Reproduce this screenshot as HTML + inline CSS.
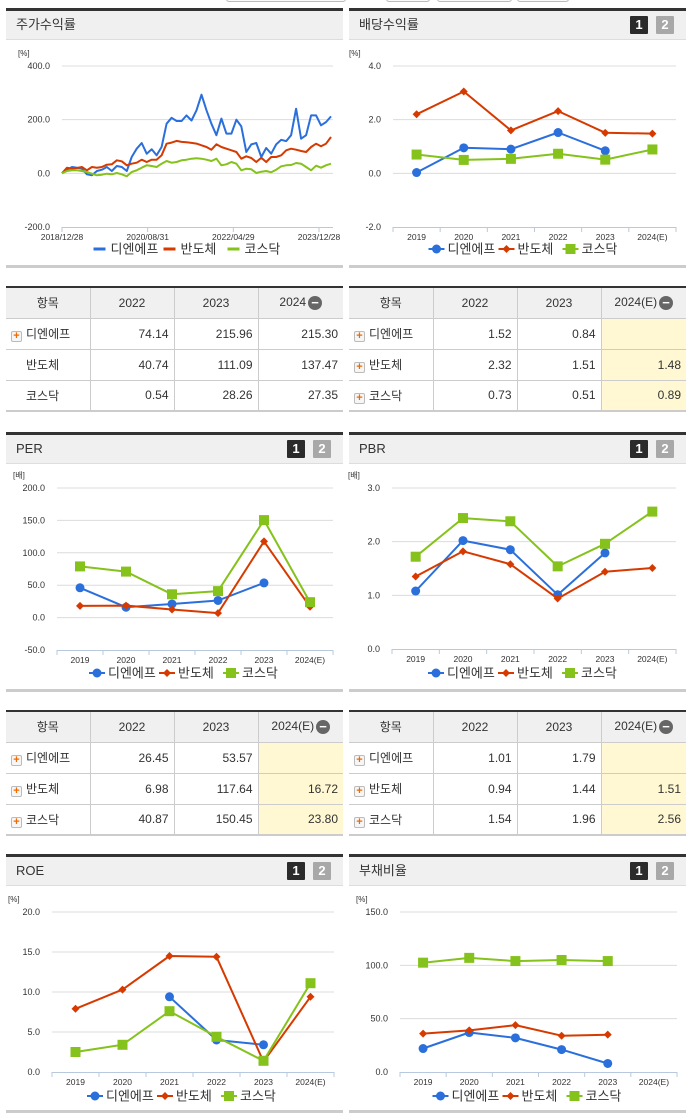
<!DOCTYPE html>
<html><head><meta charset="utf-8">
<style>
*{margin:0;padding:0;box-sizing:border-box}
body{width:691px;height:1115px;background:#fff;position:relative;overflow:hidden;font-family:"Liberation Sans","Noto Sans CJK KR",sans-serif;color:#333}
.abs{position:absolute}
.phead{position:absolute;height:32px;background:#f0f0f0;border-top:3px solid #333;border-bottom:1px solid #ddd;font-size:13px;line-height:28px;padding-left:10px;color:#333}
.pbot{position:absolute;height:3px;background:#ccc}
.badge{position:absolute;width:18px;height:18px;color:#fff;font-weight:bold;font-size:13px;line-height:18px;text-align:center;border-radius:1px}
.b1{background:#2b2b2b}.b2{background:#a8a8a8}
table{position:absolute;border-collapse:collapse;font-size:12px;table-layout:fixed;border-top:2px solid #333;border-bottom:2px solid #ccc}
td,th{border:1px solid #ccc;height:31px;padding:0 5px;font-weight:normal;white-space:nowrap}
th{background:#f0f0f0;text-align:center}
td{text-align:right}
td.n{text-align:left;padding-left:5px}
tr>*:first-child{border-left:none}
tr>*:last-child{border-right:none}
.y{background:#fff8d2}
.plus{display:inline-block;width:11px;height:11px;border:1px solid #bbb;border-radius:2px;background:#f6f6f6;color:#f06a00;font-size:11px;line-height:9px;text-align:center;font-weight:bold;vertical-align:-1px;margin-right:4px}
.sp{display:inline-block;width:15px}
.minus{display:inline-block;width:14px;height:14px;border-radius:7px;background:#666;color:#fff;font-size:13px;line-height:13px;text-align:center;vertical-align:middle;margin-left:2px;font-weight:bold}
.topbtn{position:absolute;top:-6px;height:8px;border:1px solid #bbb;border-radius:3px;background:#fafafa}
</style></head><body>
<div class="topbtn" style="left:226px;width:120px"></div>
<div class="topbtn" style="left:386px;width:44px"></div>
<div class="topbtn" style="left:437px;width:75px"></div>
<div class="topbtn" style="left:517px;width:52px"></div>

<div class="phead" style="left:6px;top:8px;width:337px">주가수익률</div>
<div class="phead" style="left:349px;top:8px;width:337px">배당수익률</div>
<div class="badge b1" style="left:630px;top:16px">1</div>
<div class="badge b2" style="left:656px;top:16px">2</div>
<div class="pbot" style="left:6px;top:265px;width:337px"></div>
<div class="pbot" style="left:349px;top:265px;width:337px"></div>

<div class="phead" style="left:6px;top:432px;width:337px">PER</div>
<div class="badge b1" style="left:287px;top:440px">1</div>
<div class="badge b2" style="left:313px;top:440px">2</div>
<div class="phead" style="left:349px;top:432px;width:337px">PBR</div>
<div class="badge b1" style="left:630px;top:440px">1</div>
<div class="badge b2" style="left:656px;top:440px">2</div>
<div class="pbot" style="left:6px;top:689px;width:337px"></div>
<div class="pbot" style="left:349px;top:689px;width:337px"></div>

<div class="phead" style="left:6px;top:854px;width:337px">ROE</div>
<div class="badge b1" style="left:287px;top:862px">1</div>
<div class="badge b2" style="left:313px;top:862px">2</div>
<div class="phead" style="left:349px;top:854px;width:337px">부채비율</div>
<div class="badge b1" style="left:630px;top:862px">1</div>
<div class="badge b2" style="left:656px;top:862px">2</div>
<div class="pbot" style="left:6px;top:1110px;width:337px"></div>
<div class="pbot" style="left:349px;top:1110px;width:337px"></div>

<table style="left:6px;top:286px;width:337px">
<colgroup><col style="width:84px"><col style="width:84px"><col style="width:84px"><col style="width:85px"></colgroup>
<tr><th>항목</th><th>2022</th><th>2023</th><th>2024<span class="minus">−</span></th></tr>
<tr><td class="n"><span class="plus">+</span>디엔에프</td><td>74.14</td><td>215.96</td><td>215.30</td></tr>
<tr><td class="n"><span class="sp"></span>반도체</td><td>40.74</td><td>111.09</td><td>137.47</td></tr>
<tr><td class="n"><span class="sp"></span>코스닥</td><td>0.54</td><td>28.26</td><td>27.35</td></tr>
</table>
<table style="left:349px;top:286px;width:337px">
<colgroup><col style="width:84px"><col style="width:84px"><col style="width:84px"><col style="width:85px"></colgroup>
<tr><th>항목</th><th>2022</th><th>2023</th><th>2024(E)<span class="minus">−</span></th></tr>
<tr><td class="n"><span class="plus">+</span>디엔에프</td><td>1.52</td><td>0.84</td><td class="y"></td></tr>
<tr><td class="n"><span class="plus">+</span>반도체</td><td>2.32</td><td>1.51</td><td class="y">1.48</td></tr>
<tr><td class="n"><span class="plus">+</span>코스닥</td><td>0.73</td><td>0.51</td><td class="y">0.89</td></tr>
</table>
<table style="left:6px;top:710px;width:337px">
<colgroup><col style="width:84px"><col style="width:84px"><col style="width:84px"><col style="width:85px"></colgroup>
<tr><th>항목</th><th>2022</th><th>2023</th><th>2024(E)<span class="minus">−</span></th></tr>
<tr><td class="n"><span class="plus">+</span>디엔에프</td><td>26.45</td><td>53.57</td><td class="y"></td></tr>
<tr><td class="n"><span class="plus">+</span>반도체</td><td>6.98</td><td>117.64</td><td class="y">16.72</td></tr>
<tr><td class="n"><span class="plus">+</span>코스닥</td><td>40.87</td><td>150.45</td><td class="y">23.80</td></tr>
</table>
<table style="left:349px;top:710px;width:337px">
<colgroup><col style="width:84px"><col style="width:84px"><col style="width:84px"><col style="width:85px"></colgroup>
<tr><th>항목</th><th>2022</th><th>2023</th><th>2024(E)<span class="minus">−</span></th></tr>
<tr><td class="n"><span class="plus">+</span>디엔에프</td><td>1.01</td><td>1.79</td><td class="y"></td></tr>
<tr><td class="n"><span class="plus">+</span>반도체</td><td>0.94</td><td>1.44</td><td class="y">1.51</td></tr>
<tr><td class="n"><span class="plus">+</span>코스닥</td><td>1.54</td><td>1.96</td><td class="y">2.56</td></tr>
</table>

<svg id="charts" class="abs" style="left:0;top:0" width="691" height="1115"></svg>

<script>
const yearCats = ["2019","2020","2021","2022","2023","2024(E)"];
const seriesNames = ["디엔에프","반도체","코스닥"];
const stockTicks = ["2018/12/28","2020/08/31","2022/04/29","2023/12/28"];
const stockBlue = [0,13.7,23.6,21.1,17.4,-3.7,-7.5,8.7,13.7,23.6,8.7,27.3,23.6,8.7,60.9,91.9,113,73.3,89.4,67.1,98.1,185,207,195,195,216,197,235,293,235,185,142,204,148,148,200,175,79.5,108,113,60.9,94.4,73.3,108,125,120,142,241,129,142,216,216,179,191,212];
const stockRed = [0,21.1,17.4,19.9,23.6,11.2,23.6,21.1,23.6,32.3,33.5,48.4,44.7,29.8,36.0,39.7,50.9,42.2,50.9,50.9,67.1,110.6,114.5,120.7,117.0,115.7,113.3,110.8,104.3,98.1,88.2,108.1,98.1,91.9,85.7,79.5,54.6,63.3,57.1,42.2,58.4,42.2,60.9,60.9,67.1,85.7,91.9,88.2,83.2,79.5,98.1,110.6,100.6,110.6,135.4];
const stockGreen = [0,8.7,11.2,11.2,8.7,5.0,-1.2,-7.5,-5.0,-1.2,-3.7,1.2,-3.7,-11.2,5.0,11.2,21.1,29.8,27.3,23.6,36.0,46.0,39.7,42.2,48.4,50.9,54.6,55.9,54.6,50.9,46.0,54.6,29.8,33.5,42.2,36.0,11.2,17.4,14.9,1.2,6.2,8.7,3.7,13.7,26.1,29.8,31.0,38.5,36.0,23.6,11.2,28.6,21.1,29.8,36.0];
const divBlue = [0.03,0.95,0.9,1.52,0.84,null];
const divRed = [2.2,3.05,1.6,2.32,1.51,1.48];
const divGreen = [0.7,0.5,0.54,0.73,0.51,0.89];
const perBlue = [46,16,21,26.45,53.57,null];
const perRed = [18,18.5,12.5,6.98,117.64,16.72];
const perGreen = [79,71,36,40.87,150.45,23.8];
const pbrBlue = [1.08,2.02,1.85,1.01,1.79,null];
const pbrRed = [1.35,1.82,1.58,0.94,1.44,1.51];
const pbrGreen = [1.72,2.44,2.38,1.54,1.96,2.56];
const roeBlue = [null,null,9.4,4.0,3.4,null];
const roeRed = [7.9,10.3,14.5,14.4,1.3,9.4];
const roeGreen = [2.5,3.4,7.6,4.4,1.4,11.1];
const debtBlue = [22,37,32,21,8,null];
const debtRed = [36,39,44,34,35,null];
const debtGreen = [102.5,107,104,105,104,null];
const divTicks = [4,2,0,-2], perTicks=[200,150,100,50,0,-50], pbrTicks=[3,2,1,0], roeTicks=[20,15,10,5,0], debtTicks=[150,100,50,0];

const NS="http://www.w3.org/2000/svg";
const svg=document.getElementById('charts');
const COLORS=["#2a6fdb","#d63a00","#85c21b"];
function el(tag,attrs,parent){const e=document.createElementNS(NS,tag);for(const k in attrs)e.setAttribute(k,attrs[k]);(parent||svg).appendChild(e);return e;}
function txt(x,y,s,size,anchor,parent,fill){const t=el('text',{x:x,y:y,'font-size':size,'text-anchor':anchor||'start',fill:fill||'#333','font-family':'"Liberation Sans","Noto Sans CJK KR",sans-serif'},parent);t.textContent=s;return t;}
function marker(g,type,x,y,c){
  if(type===0){const m=el('circle',{cx:x,cy:y,r:4.5,fill:c},g);}
  else if(type===1){const m=el('path',{d:`M${x} ${y-4}L${x+4} ${y}L${x} ${y+4}L${x-4} ${y}Z`,fill:c},g);}
  else {const m=el('rect',{x:x-5,y:y-5,width:10,height:10,fill:c},g);}
}
function legend(cx,y,markers){
  const g=el('g',{});
  
  
  const widths=[70,64,62];const total=widths.reduce((a,b)=>a+b,0);let x=cx-total/2;
  seriesNames.forEach((n,i)=>{
    const it=el('g',{},g);
    
    
    if(markers){el('line',{x1:x,y1:y,x2:x+16,y2:y,stroke:COLORS[i],'stroke-width':2},it);marker(it,i,x+8,y,COLORS[i]);}
    else el('line',{x1:x+2,y1:y,x2:x+14,y2:y,stroke:COLORS[i],'stroke-width':3},it);
    txt(x+19,y+4.5,n,13,'start',it);
    x+=widths[i];
  });
}
function chart(o){
  const g=el('g',{});
  
  
  const yS=v=>o.yTop+(o.max-v)/(o.max-o.min)*(o.yBot-o.yTop);
  txt(o.L-44,o.yTop-10,o.unit,8,'start',g);
  o.ticks.forEach(t=>{
    const y=yS(t);
    if(t!==o.min){const gl=el('line',{x1:o.L,y1:y,x2:o.R,y2:y,stroke:'#dcdcdc','stroke-width':1},g);}
    const lt=txt(o.L-12,y+3,t.toFixed(1),9,'end',g);
    
  });
  el('line',{x1:o.L,y1:o.yBot+0.5,x2:o.R,y2:o.yBot+0.5,stroke:'#b9c9dd','stroke-width':1},g);
  let xS;
  if(o.cats){
    const bw=(o.R-o.L)/o.cats.length;
    xS=i=>o.L+bw*(i+0.5);
    for(let i=0;i<=o.cats.length;i++)el('line',{x1:o.L+bw*i,y1:o.yBot,x2:o.L+bw*i,y2:o.yBot+5,stroke:'#b9c9dd'},g);
    o.cats.forEach((c,i)=>{const t=txt(xS(i),o.yBot+13,c,8.5,'middle',g);});
  } else {
    const n=o.series[0].length;
    xS=i=>o.L+i*(o.R-2-o.L)/(n-1);
    o.xticks.forEach((c,i)=>{const x=o.L+i*(o.R-14-o.L)/(o.xticks.length-1);el('line',{x1:x,y1:o.yBot,x2:x,y2:o.yBot+5,stroke:'#b9c9dd'},g);const t=txt(x,o.yBot+13,c,8.5,'middle',g);});
  }
  o.series.forEach((s,si)=>{
    let d='';let pen=false;
    s.forEach((v,i)=>{if(v==null){pen=false;return;}d+=(pen?'L':'M')+xS(i).toFixed(1)+' '+yS(v).toFixed(1);pen=true;});
    const p=el('path',{d:d,fill:'none',stroke:COLORS[si],'stroke-width':2,'stroke-linejoin':'round'},g);
    
    
    if(o.cats)s.forEach((v,i)=>{if(v!=null)marker(g,si,xS(i),yS(v),COLORS[si]);});
  });
  legend((o.L+o.R)/2-8,o.leg,!!o.cats);
}
chart({name:'stock-return-chart',L:62,R:333,yTop:66,yBot:227,max:400,min:-200,ticks:[400,200,0,-200],unit:'[%]',xticks:stockTicks,series:[stockBlue,stockRed,stockGreen],leg:249});
chart({name:'dividend-chart',L:393,R:676,yTop:66,yBot:227,max:4,min:-2,ticks:divTicks,unit:'[%]',cats:yearCats,series:[divBlue,divRed,divGreen],leg:249});
chart({name:'per-chart',L:57,R:333,yTop:488,yBot:650,max:200,min:-50,ticks:perTicks,unit:'[배]',cats:yearCats,series:[perBlue,perRed,perGreen],leg:673});
chart({name:'pbr-chart',L:392,R:676,yTop:488,yBot:649,max:3,min:0,ticks:pbrTicks,unit:'[배]',cats:yearCats,series:[pbrBlue,pbrRed,pbrGreen],leg:673});
chart({name:'roe-chart',L:52,R:334,yTop:912,yBot:1072,max:20,min:0,ticks:roeTicks,unit:'[%]',cats:yearCats,series:[roeBlue,roeRed,roeGreen],leg:1096});
chart({name:'debt-ratio-chart',L:400,R:677,yTop:912,yBot:1072,max:150,min:0,ticks:debtTicks,unit:'[%]',cats:yearCats,series:[debtBlue,debtRed,debtGreen],leg:1096});
</script>
</body></html>
